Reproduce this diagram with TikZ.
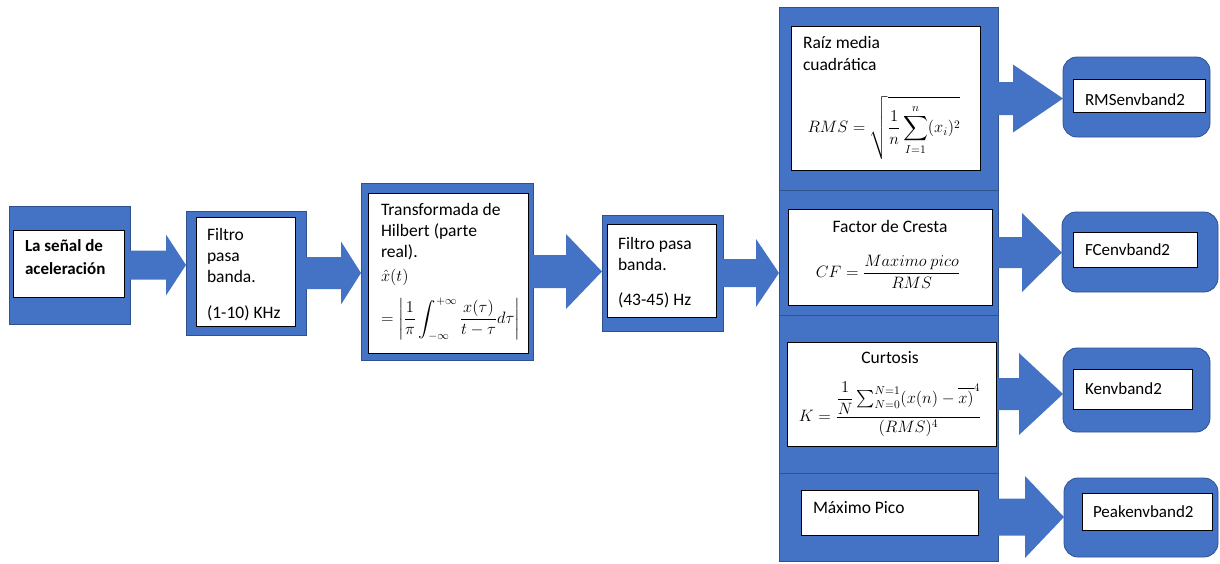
\documentclass[tikz,border=0pt]{standalone}
\usepackage{fix-cm}
\usepackage{amsmath}
\usepackage[no-math]{fontspec}
\setmainfont{Carlito}
\usetikzlibrary{calc,fit}
\definecolor{ofblue}{HTML}{4472C4}
\definecolor{ofline}{HTML}{2F528F}
\newcommand\blockarrow[5]{%
  \fill[ofblue] let \p1=(#1.east), \p2=(#2.west) in
    (\x1,\y1+#4) -- (\x2-#3,\y1+#4) -- (\x2-#3,\y1+#5) -- (\x2,\y1)
    -- (\x2-#3,\y1-#5) -- (\x2-#3,\y1-#4) -- (\x1,\y1-#4) -- cycle;}
\begin{document}
\begin{tikzpicture}[x=1pt,y=-1pt,
  bluebox/.style={fill=ofblue,draw=ofline,line width=0.8pt,inner sep=0pt,outer sep=0pt},
  roundbox/.style={bluebox,rounded corners=14pt},
  whitebox/.style={fill=white,draw=black,line width=0.7pt,inner sep=0pt,outer sep=0pt},
  txt/.style={inner sep=0pt,outer sep=0pt,align=left,text=black,font=\fontsize{17.5}{21}\selectfont},
  lbl/.style={inner sep=0pt,outer sep=0pt,text=black,font=\fontsize{17}{21}\selectfont},
  mth/.style={inner sep=0pt,outer sep=0pt,text=black,font=\fontsize{16.5}{20}\selectfont}]
\useasboundingbox (0,0) rectangle (1220,563);

% ---- main chain ----
\node[bluebox,fit={(9,206) (130,324)}] (b1) {};
\node[whitebox,fit={(13,230) (124,297)}] (w1) {};
\node[txt,anchor=north west,font=\fontsize{17}{20}\selectfont\bfseries] (t1) at (25,240) {La señal de\\[3pt]aceleración};

\node[bluebox,fit={(186,211) (306,335)}] (b2) {};
\node[whitebox,fit={(196,217) (295,326)}] (w2) {};
\node[txt,anchor=north west] (t2) at (207,228) {Filtro\\pasa\\banda.\\[15pt](1-10) KHz};

\node[bluebox,fit={(361,183) (533,360)}] (b3) {};
\node[whitebox,fit={(368,193) (528,353)}] (w3) {};
\node[txt,anchor=north west] (t3) at (381,203) {Transformada de\\Hilbert (parte\\real).};
\node[mth,anchor=base west] (m3a) at (381,281) {$\hat{x}(t)$};
\node[mth,anchor=west] (m3b) at (381,319) {$\displaystyle =\left|\frac{1}{\pi}\int_{-\infty}^{+\infty}\frac{x(\tau)}{t-\tau}d\tau\right|$};

\node[bluebox,fit={(602,215) (723,331)}] (b4) {};
\node[whitebox,fit={(607,224) (716,317)}] (w4) {};
\node[txt,anchor=north west] (t4) at (618,237) {Filtro pasa\\banda.\\[14pt](43-45) Hz};

% ---- right column ----
\node[bluebox,fit={(779,7) (998,190)}] (cA) {};
\node[whitebox,fit={(791,26) (980,170)}] (wA) {};
\node[txt,anchor=north west] (tA) at (803,36) {Raíz media\\[1pt]cuadrática};
\node[mth] (fA) at (884,128) {$\displaystyle RMS=\sqrt{\frac{1}{n}\sum_{I=1}^{n}(x_i)^2}$};

\node[bluebox,fit={(779,190) (998,315)}] (cB) {};
\node[whitebox,fit={(788,209) (992,305)}] (wB) {};
\node[txt] (tB) at (890,226) {Factor de Cresta};
\node[mth] (fB) at (888,272) {$\displaystyle CF=\frac{Maximo\ pico}{RMS}$};

\node[bluebox,fit={(779,315) (998,473)}] (cC) {};
\node[whitebox,fit={(787,342) (996,446)}] (wC) {};
\node[txt] (tC) at (890,358) {Curtosis};
\node[mth] (fC) at (890,409) {$\displaystyle K=\frac{\dfrac{1}{N}\textstyle\sum_{N=0}^{N=1}(x(n)-\overline{x)}^4}{(RMS)^4}$};

\node[bluebox,fit={(779,473) (998,561)}] (cD) {};
\node[whitebox,fit={(801,490) (978,535)}] (wD) {};
\node[txt,anchor=west] (tD) at (813,508) {Máximo Pico};

% ---- result boxes ----
\node[roundbox,fit={(1063,57) (1210,137)}] (rA) {};
\node[whitebox,fit={(1073,79) (1205,112)}] (iA) {};
\node[lbl,anchor=west] (lA) at (1085,100) {RMSenvband2};

\node[roundbox,fit={(1062,212) (1218,292)}] (rB) {};
\node[whitebox,fit={(1073,232) (1197,267)}] (iB) {};
\node[lbl,anchor=west] (lB) at (1085,250) {FCenvband2};

\node[roundbox,fit={(1063,348) (1210,432)}] (rC) {};
\node[whitebox,fit={(1073,369) (1192,409)}] (iC) {};
\node[lbl,anchor=west] (lC) at (1085,389) {Kenvband2};

\node[roundbox,fit={(1064,478) (1218,557)}] (rD) {};
\node[whitebox,fit={(1082,493) (1212,530)}] (iD) {};
\node[lbl,anchor=west] (lD) at (1093,512) {Peakenvband2};

% ---- block arrows ----
\blockarrow{b1}{b2}{20}{14.5}{30.5}
\blockarrow{b2}{b3}{20}{16}{31.5}
\blockarrow{b3}{b4}{36}{16.5}{37.5}
\blockarrow{b4}{cB}{23}{14}{34}
\blockarrow{cA}{rA}{50}{16.5}{34}
\blockarrow{cB}{rB}{40}{15.5}{39.5}
\blockarrow{cC}{rC}{44}{16}{41}
\blockarrow{cD}{rD}{39}{18.5}{41}
\end{tikzpicture}
\end{document}
